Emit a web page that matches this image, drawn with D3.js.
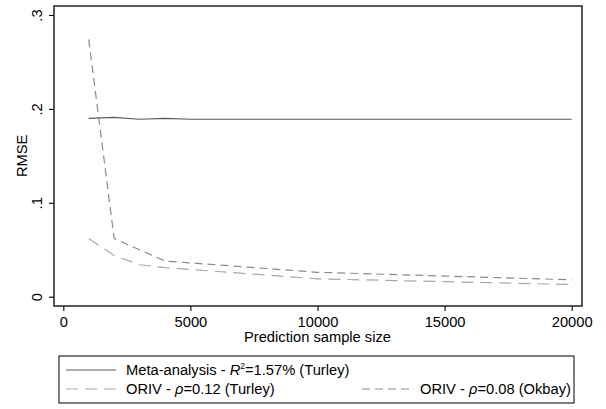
<!DOCTYPE html>
<html>
<head>
<meta charset="utf-8">
<script src="https://cdn.jsdelivr.net/npm/d3@7"></script>
<style>
  body { margin: 0; background: #fff; }
  text { font-family: "Liberation Sans", Arial, sans-serif; fill: #000; }
</style>
</head>
<body>
<div id="chart"></div>
<script>
'use strict';

// sample sizes and RMSE values
const sampleSizes = [1000, 2000, 3000, 4000, 5000, 10000, 15000, 20000];
const metaRmse = [0.190, 0.191, 0.189, 0.190, 0.189, 0.189, 0.189, 0.189];
const orivTurley = [0.062, 0.044, 0.034, 0.031, 0.029, 0.019, 0.016, 0.013];
const orivOkbay = [0.274, 0.062, 0.050, 0.038, 0.036, 0.026, 0.022, 0.018];
const xTicks = [0, 5000, 10000, 15000, 20000];
const yTicks = [0, 0.1, 0.2, 0.3];

const width = 606, height = 409;
const fontSize = '14.7px';
const frame = {left: 54, top: 6, right: 582, bottom: 306};

const svg = d3.select('#chart').append('svg')
  .attr('width', width).attr('height', height);

const x = d3.scaleLinear().domain([0, 20000]).range([63.3, 571.7]);
const y = d3.scaleLinear().domain([0, 0.3]).range([296.7, 15]);

// plot frame
svg.append('rect')
  .attr('x', frame.left).attr('y', frame.top)
  .attr('width', frame.right - frame.left)
  .attr('height', frame.bottom - frame.top)
  .attr('fill', 'none').attr('stroke', '#000').attr('stroke-width', 1.3);

// x axis
const xAxis = svg.append('g')
  .attr('transform', 'translate(0,' + frame.bottom + ')')
  .call(d3.axisBottom(x).tickValues(xTicks).tickFormat(d3.format('d'))
    .tickSize(5).tickSizeOuter(0).tickPadding(6));
xAxis.select('.domain').remove();
xAxis.selectAll('.tick line').attr('stroke', '#000').attr('stroke-width', 1.1);
xAxis.selectAll('text').style('font-size', fontSize)
  .style('font-family', '"Liberation Sans", Arial, sans-serif');

// y axis, labels rotated like Stata
const yAxis = svg.append('g')
  .attr('transform', 'translate(' + frame.left + ',0)')
  .call(d3.axisLeft(y).tickValues(yTicks)
    .tickFormat(d => d === 0 ? '0' : d3.format('.1f')(d).replace(/^0/, ''))
    .tickSize(5).tickSizeOuter(0));
yAxis.select('.domain').remove();
yAxis.selectAll('.tick line').attr('stroke', '#000').attr('stroke-width', 1.1);
yAxis.selectAll('text')
  .attr('x', null).attr('dy', null)
  .attr('transform', 'translate(-12,0) rotate(-90)')
  .attr('text-anchor', 'middle')
  .style('font-size', fontSize)
  .style('font-family', '"Liberation Sans", Arial, sans-serif');

// axis titles
svg.append('text')
  .attr('x', x(10000)).attr('y', 342)
  .attr('text-anchor', 'middle').style('font-size', fontSize)
  .text('Prediction sample size');
svg.append('text')
  .attr('transform', 'translate(27,' + y(0.15) + ') rotate(-90)')
  .attr('text-anchor', 'middle').style('font-size', fontSize)
  .text('RMSE');

const series = [
  {values: metaRmse, color: '#5a5a5a', dash: null},
  {values: orivTurley, color: '#a8a8a8', dash: '12,7'},
  {values: orivOkbay, color: '#8a8a8a', dash: '8,5'},
];

const line = d3.line()
  .x((d, i) => x(sampleSizes[i]))
  .y(d => y(d));

svg.append('g').selectAll('path')
  .data(series)
  .enter().append('path')
    .attr('d', d => line(d.values))
    .attr('fill', 'none')
    .attr('stroke', d => d.color)
    .attr('stroke-width', 1.2)
    .attr('stroke-dasharray', d => d.dash);

// legend
const legend = svg.append('g');
legend.append('rect')
  .attr('x', 59).attr('y', 356).attr('width', 515).attr('height', 47)
  .attr('fill', '#fff').attr('stroke', '#000').attr('stroke-width', 1);

const legendItems = [
  {s: series[0], x: 66, w: 50, y: 370},
  {s: series[1], x: 66, w: 50, y: 389},
  {s: series[2], x: 362, w: 48, y: 389},
];
legend.selectAll('line')
  .data(legendItems)
  .enter().append('line')
    .attr('x1', d => d.x).attr('x2', d => d.x + d.w)
    .attr('y1', d => d.y).attr('y2', d => d.y)
    .attr('stroke', d => d.s.color)
    .attr('stroke-width', 1.2)
    .attr('stroke-dasharray', d => d.s.dash);

const t1 = legend.append('text').attr('x', 126).attr('y', 375).style('font-size', fontSize);
t1.append('tspan').text('Meta-analysis - ');
t1.append('tspan').style('font-style', 'italic').text('R');
t1.append('tspan').attr('dy', -6).style('font-size', '8.5px').text('2');
t1.append('tspan').attr('dy', 6).text('=1.57% (Turley)');

const t2 = legend.append('text').attr('x', 126).attr('y', 394).style('font-size', fontSize);
t2.append('tspan').text('ORIV - ');
t2.append('tspan').style('font-style', 'italic').text('ρ');
t2.append('tspan').text('=0.12 (Turley)');

const t3 = legend.append('text').attr('x', 420).attr('y', 394).style('font-size', fontSize);
t3.append('tspan').text('ORIV - ');
t3.append('tspan').style('font-style', 'italic').text('ρ');
t3.append('tspan').text('=0.08 (Okbay)');
</script>
</body>
</html>
